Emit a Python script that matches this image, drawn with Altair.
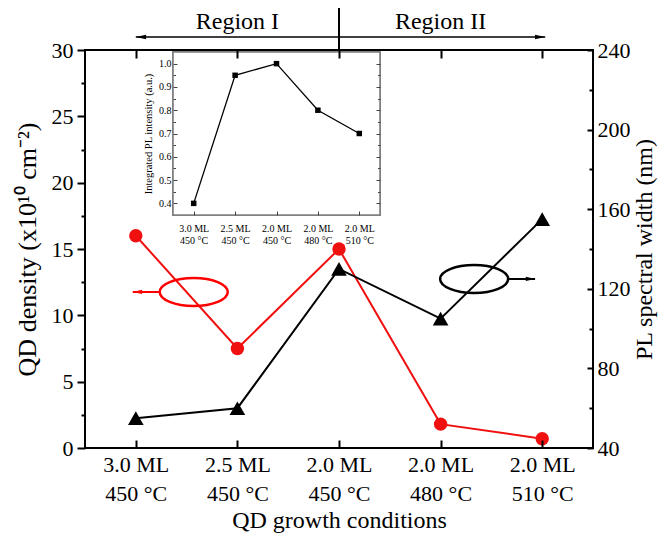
import altair as alt
import pandas as pd

# ---------------- data ----------------
conditions = ["3.0 ML|450 °C", "2.5 ML|450 °C", "2.0 ML|450 °C", "2.0 ML|480 °C", "2.0 ML|510 °C"]
qd_density = [16.0, 7.5, 15.0, 1.8, 0.7]          # left axis (x10^10 cm^-2)
pl_width = [55, 60, 130, 105, 155]                # right axis (nm)
pl_intensity = [0.40, 0.95, 1.00, 0.80, 0.70]     # inset (a.u.)

density_ticks = [0, 5, 10, 15, 20, 25, 30]
density_minor = [2.5, 7.5, 12.5, 17.5, 22.5, 27.5]
width_ticks = [40, 80, 120, 160, 200, 240]
width_minor = [60, 100, 140, 180, 220]
inset_ticks = [0.4, 0.5, 0.6, 0.7, 0.8, 0.9, 1.0]
inset_minor = [0.45, 0.55, 0.65, 0.75, 0.85, 0.95]

# annotations in main-chart data units (x = category index, y = QD density units)
ellipse_x = [0.57, 3.33]
ellipse_y = [11.76, 12.74]
ellipse_col = ["red", "black"]
arrow_x = [0.24, 3.66]
arrow_x2 = [-0.03, 3.93]
arrow_y = [11.76, 12.74]
arrow_col = ["red", "black"]
arrow_dir = ["left", "right"]

region_line_x = [2.0]
region_line_y = [30.0]
region_line_y2 = [33.2]
region_arrow_x = [2.0, 2.0]
region_arrow_x2 = [0.0, 4.03]
region_arrow_y = [30.98, 30.98]
region_arrow_dir = ["left", "right"]
region_text = ["Region I", "Region II"]
region_text_x = [1.0, 3.0]
region_text_y = [31.55, 31.55]

# ---------------- layout ----------------
W, H = 508, 398
INSET_X = [88, 295]
INSET_Y = [165, 2]
FONT = "Liberation Serif"
RED = "#f01010"

df = pd.DataFrame({"cond": conditions, "qd": qd_density, "pl": pl_width, "pi": pl_intensity})

x_main = alt.Scale(type="point", domain=conditions, padding=0.5)
y_left = alt.Scale(domain=[0, 30], nice=False, zero=False)
y_right = alt.Scale(domain=[40, 240], nice=False, zero=False)
x_in = alt.Scale(type="point", domain=conditions, padding=0.5, range=INSET_X)
y_in = alt.Scale(domain=[0.35, 1.05], nice=False, zero=False, range=INSET_Y)
x_ann = alt.Scale(domain=[-0.5, 4.5], nice=False, zero=False)

base = alt.Chart(df)

# --- main series ---
red_line = base.mark_line(color=RED, strokeWidth=2).encode(
    x=alt.X("cond:N", sort=conditions, scale=x_main,
            axis=alt.Axis(orient="bottom", title="QD growth conditions", domain=False,
                          offset=-8, tickSize=8, labelExpr="split(datum.label, '|')",
                          labelAngle=0, labelLineHeight=29, labelPadding=6,
                          titlePadding=4, zindex=1)),
    y=alt.Y("qd:Q", scale=y_left,
            axis=alt.Axis(orient="left", values=density_ticks, domain=False, tickSize=8,
                          labelPadding=4, title="QD density (x10¹⁰ cm⁻²)",
                          titleFontSize=26, titlePadding=11, zindex=1)),
)
red_pts = base.mark_point(shape="circle", filled=True, opacity=1, color=RED, size=180).encode(
    x=alt.X("cond:N", sort=conditions, scale=x_main, axis=None),
    y=alt.Y("qd:Q", scale=y_left, axis=None),
)
black_line = base.mark_line(color="black", strokeWidth=2).encode(
    x=alt.X("cond:N", sort=conditions, scale=x_main,
            axis=alt.Axis(orient="top", labels=False, domain=False, offset=-8, tickSize=8,
                          title=None, zindex=1)),
    y=alt.Y("pl:Q", scale=y_right,
            axis=alt.Axis(orient="right", values=width_ticks, domain=False, offset=-6,
                          tickSize=6, labelPadding=4, title="PL spectral width (nm)",
                          titleAngle=270, titleBaseline="top", titlePadding=2, zindex=1)),
)
black_pts = base.mark_point(shape="triangle-up", filled=True, opacity=1, color="black", size=245).encode(
    x=alt.X("cond:N", sort=conditions, scale=x_main, axis=None),
    y=alt.Y("pl:Q", scale=y_right, axis=None),
)

# --- minor ticks of the main axes ---
left_minor = base.mark_point(opacity=0).encode(
    y=alt.Y("qd:Q", scale=y_left,
            axis=alt.Axis(orient="left", values=density_minor, labels=False, domain=False,
                          tickSize=4, title=None, zindex=1)))
right_minor = base.mark_point(opacity=0).encode(
    y=alt.Y("pl:Q", scale=y_right,
            axis=alt.Axis(orient="right", values=width_minor, labels=False, domain=False,
                          offset=-4, tickSize=4, title=None, zindex=1)))

# --- inset ---
inset_frame = base.mark_rect(fill="white", stroke="#808080", strokeWidth=1.6).encode(
    x=alt.value(INSET_X[0]), x2=alt.value(INSET_X[1]),
    y=alt.value(INSET_Y[1]), y2=alt.value(INSET_Y[0]))

in_axis_common = dict(tickColor="#444444", tickWidth=1, labelFontSize=10, titleFontSize=10.5)

inset_line = base.mark_line(color="black", strokeWidth=1.3).encode(
    x=alt.X("cond:N", sort=conditions, scale=x_in,
            axis=alt.Axis(orient="bottom", title=None, domain=False,
                          offset=(INSET_Y[0] - 4) - H, tickSize=4,
                          labelExpr="split(datum.label, '|')", labelAngle=0,
                          labelLineHeight=12, labelPadding=8, zindex=1, **in_axis_common)),
    y=alt.Y("pi:Q", scale=y_in,
            axis=alt.Axis(orient="left", values=inset_ticks, format=".1f", domain=False,
                          offset=-(INSET_X[0] + 4), tickSize=4, labelPadding=2,
                          title="Integrated PL intensity (a.u.)", titlePadding=5,
                          zindex=1, **in_axis_common)),
)
inset_pts = base.mark_point(shape="square", filled=True, opacity=1, color="black", size=30).encode(
    x=alt.X("cond:N", sort=conditions, scale=x_in, axis=None),
    y=alt.Y("pi:Q", scale=y_in, axis=None),
)
inset_left_minor = base.mark_point(opacity=0).encode(
    y=alt.Y("pi:Q", scale=y_in,
            axis=alt.Axis(orient="left", values=inset_minor, labels=False, domain=False,
                          offset=-(INSET_X[0] + 2.5), tickSize=2.5, title=None, zindex=1,
                          **in_axis_common)))
inset_right_major = base.mark_point(opacity=0).encode(
    y=alt.Y("pi:Q", scale=y_in,
            axis=alt.Axis(orient="right", values=inset_ticks, labels=False, domain=False,
                          offset=(INSET_X[1] - 4) - W, tickSize=4, title=None, zindex=1,
                          **in_axis_common)))
inset_right_minor = base.mark_point(opacity=0).encode(
    y=alt.Y("pi:Q", scale=y_in,
            axis=alt.Axis(orient="right", values=inset_minor, labels=False, domain=False,
                          offset=(INSET_X[1] - 2.5) - W, tickSize=2.5, title=None, zindex=1,
                          **in_axis_common)))

# --- annotations ---
PATH_L = "M -1 0 L 1 -0.45 L 1 0.45 Z"
PATH_R = "M 1 0 L -1 -0.45 L -1 0.45 Z"
ELLIPSE = "M -1 0 A 1 0.41 0 1 1 1 0 A 1 0.41 0 1 1 -1 0 Z"

ell_df = pd.DataFrame({"x": ellipse_x, "y": ellipse_y, "c": ellipse_col})
ellipses = alt.Chart(ell_df).mark_point(shape=ELLIPSE, filled=False, size=68 * 68,
                                        strokeWidth=2.5, opacity=1).encode(
    x=alt.X("x:Q", scale=x_ann, axis=None),
    y=alt.Y("y:Q", scale=y_left, axis=None),
    color=alt.Color("c:N", scale=None))

arr_df = pd.DataFrame({"x": arrow_x, "x2": arrow_x2, "y": arrow_y, "c": arrow_col, "d": arrow_dir})
arrows = alt.Chart(arr_df).mark_rule(strokeWidth=2).encode(
    x=alt.X("x:Q", scale=x_ann, axis=None), x2="x2:Q",
    y=alt.Y("y:Q", scale=y_left, axis=None),
    color=alt.Color("c:N", scale=None))
heads = alt.Chart(arr_df).transform_calculate(
    hx="datum.x2 + (datum.d == 'left' ? 0.045 : -0.045)").mark_point(
    filled=True, size=90, opacity=1).encode(
    x=alt.X("hx:Q", scale=x_ann, axis=None),
    y=alt.Y("y:Q", scale=y_left, axis=None),
    color=alt.Color("c:N", scale=None),
    shape=alt.Shape("d:N", scale=alt.Scale(domain=["left", "right"], range=[PATH_L, PATH_R]),
                    legend=None))

rl_df = pd.DataFrame({"x": region_line_x, "y": region_line_y, "y2": region_line_y2})
region_line = alt.Chart(rl_df).mark_rule(color="black", strokeWidth=2).encode(
    x=alt.X("x:Q", scale=x_ann, axis=None),
    y=alt.Y("y:Q", scale=y_left, axis=None), y2="y2:Q")

ra_df = pd.DataFrame({"x": region_arrow_x, "x2": region_arrow_x2, "y": region_arrow_y,
                      "d": region_arrow_dir})
region_arrows = alt.Chart(ra_df).mark_rule(color="black", strokeWidth=1.5).encode(
    x=alt.X("x:Q", scale=x_ann, axis=None), x2="x2:Q",
    y=alt.Y("y:Q", scale=y_left, axis=None))
region_heads = alt.Chart(ra_df).transform_calculate(
    hx="datum.x2 + (datum.d == 'left' ? 0.05 : -0.05)").mark_point(
    filled=True, size=110, opacity=1, color="black").encode(
    x=alt.X("hx:Q", scale=x_ann, axis=None),
    y=alt.Y("y:Q", scale=y_left, axis=None),
    shape=alt.Shape("d:N", scale=alt.Scale(domain=["left", "right"], range=[PATH_L, PATH_R]),
                    legend=None))

rt_df = pd.DataFrame({"t": region_text, "x": region_text_x, "y": region_text_y})
region_labels = alt.Chart(rt_df).mark_text(font=FONT, fontSize=24, color="black",
                                           baseline="alphabetic", align="center").encode(
    x=alt.X("x:Q", scale=x_ann, axis=None),
    y=alt.Y("y:Q", scale=y_left, axis=None),
    text="t:N")

chart = alt.layer(
    left_minor, right_minor,
    red_line, black_line, red_pts, black_pts,
    inset_frame, inset_left_minor, inset_right_major, inset_right_minor,
    inset_line, inset_pts,
    ellipses, arrows, heads,
    region_line, region_arrows, region_heads, region_labels,
).resolve_scale(
    x="independent", y="independent", shape="independent", color="independent"
).properties(
    width=W, height=H,
    autosize=alt.AutoSizeParams(type="none"),
    padding={"left": 77, "top": 42, "right": 66, "bottom": 87},
).configure_view(
    stroke="black", strokeWidth=2
).configure_axis(
    labelFont=FONT, titleFont=FONT, labelColor="black", titleColor="black",
    tickColor="black", domainColor="black", grid=False, titleFontWeight="normal",
    labelFontSize=22, titleFontSize=24, tickWidth=2,
)

chart.save("out.html", embed_options={"renderer": "svg", "actions": False})
